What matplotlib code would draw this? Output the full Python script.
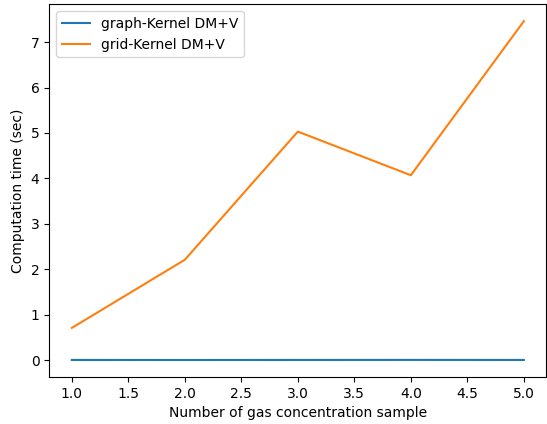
import matplotlib
matplotlib.use("Agg")
import matplotlib.pyplot as plt

samples = [1, 2, 3, 4, 5]
graph_kernel_time = [0.005, 0.004, 0.005, 0.006, 0.005]
grid_kernel_time = [0.71, 2.21, 5.03, 4.07, 7.46]

fig, ax = plt.subplots(figsize=(5.47, 4.24), dpi=100)
ax.plot(samples, graph_kernel_time, label="graph-Kernel DM+V")
ax.plot(samples, grid_kernel_time, label="grid-Kernel DM+V")
ax.set_xlabel("Number of gas concentration sample")
ax.set_ylabel("Computation time (sec)")
ax.legend(loc="upper left")
fig.subplots_adjust(left=0.09, right=0.999, top=0.99, bottom=0.111)
fig.savefig("out.png")
